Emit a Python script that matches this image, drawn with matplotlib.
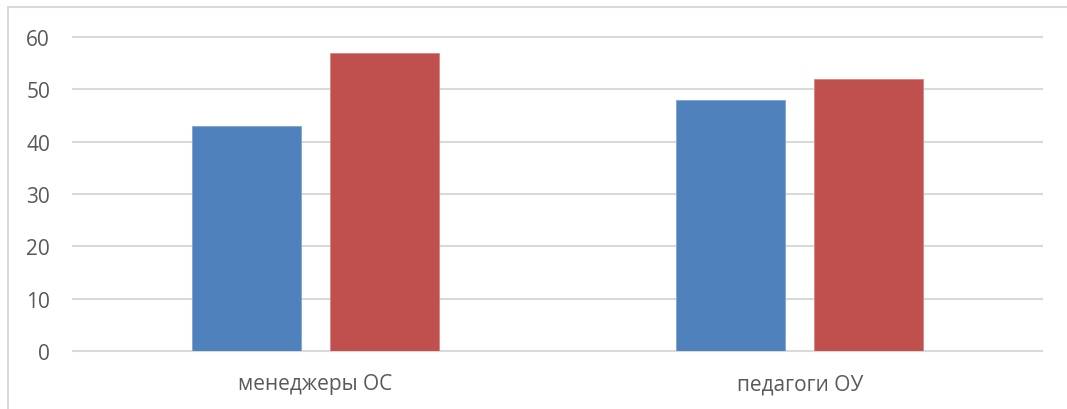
import matplotlib.pyplot as plt
import matplotlib.patches as patches
import numpy as np

categories = ["менеджеры ОС", "педагоги ОУ"]
series_blue = [43, 48]
series_red = [57, 52]
yticks = [0, 10, 20, 30, 40, 50, 60]

plt.rcParams['font.family'] = ['Open Sans', 'DejaVu Sans']

W, H = 1067, 410
fig = plt.figure(figsize=(W / 100, H / 100), dpi=100)

# outer chart frame (runs off the right and bottom edges)
frame = patches.Rectangle((8 / W, -0.2), 1.2, 1.2 - 8 / H,
                          transform=fig.transFigure, fill=False,
                          edgecolor="#d9d9d9", linewidth=1.5, clip_on=False)
fig.patches.append(frame)

ax = fig.add_axes([73 / W, 1 - 352 / H, (1042 - 73) / W, (352 - 38) / H])

x = np.arange(len(categories))
w = 0.225
off = 0.1428
ax.bar(x - off, series_blue, w, color="#4f81bd", edgecolor="#7fa3d0", linewidth=0.6, zorder=3)
ax.bar(x + off, series_red, w, color="#c0504d", edgecolor="#d98583", linewidth=0.6, zorder=3)

ax.set_xlim(-0.5, 1.5)
ax.set_ylim(0, 60)
ax.set_yticks(yticks)
ax.set_xticks(x)
ax.set_xticklabels(categories)
for gy in yticks:
    ax.axhline(gy, color="#d9d9d9", linewidth=1.5, zorder=1, clip_on=False)

for s in ax.spines.values():
    s.set_visible(False)
ax.tick_params(axis="y", length=0, pad=16.5, labelsize=15, labelcolor="#595959")
ax.tick_params(axis="x", length=0, pad=16, labelsize=15, labelcolor="#595959")

fig.savefig("out.png", dpi=100)
